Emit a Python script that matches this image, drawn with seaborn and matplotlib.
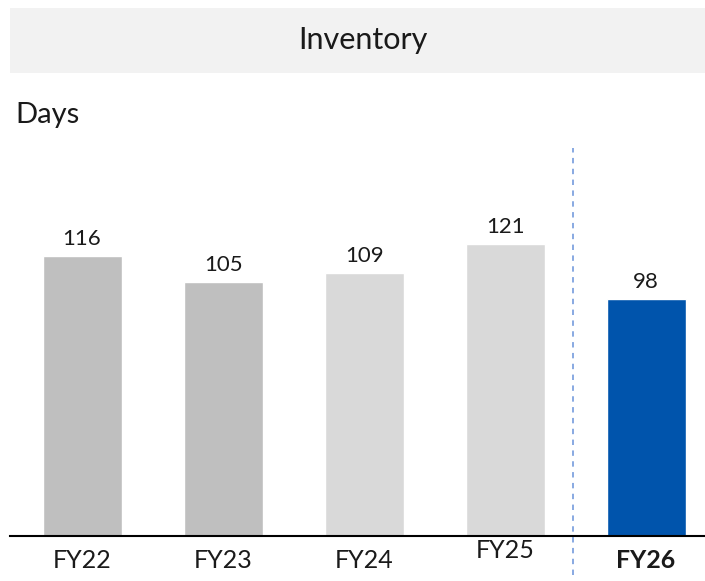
import matplotlib
matplotlib.use("Agg")
import matplotlib.pyplot as plt
import matplotlib.patches as mpatches
import matplotlib.transforms as mtransforms
import seaborn as sns
import pandas as pd

# data
years = ["FY22", "FY23", "FY24", "FY25", "FY26"]
days = [116, 105, 109, 121, 98]
bar_colors = ["#BFBFBF", "#BFBFBF", "#D9D9D9", "#D9D9D9", "#0054AC"]

sns.set_style("white")
plt.rcParams['font.family'] = ['Lato', 'DejaVu Sans']

df = pd.DataFrame({"year": years, "days": days})

fig = plt.figure(figsize=(7.05, 5.81), dpi=100)

# grey title band
fig.patches.append(mpatches.Rectangle((10 / 705, 1 - 73 / 581), 695 / 705, 65 / 581,
                                      transform=fig.transFigure, facecolor="#F2F2F2",
                                      edgecolor="none", zorder=0))
fig.text(363 / 705, 1 - 40 / 581, "Inventory", ha="center", va="center",
         fontsize=22, color="#1a1a1a")
fig.text(15 / 705, 1 - 115 / 581, "Days", ha="left", va="center",
         fontsize=21, color="#1a1a1a")

ax = fig.add_axes([10 / 705, 45 / 581, 695 / 705, 388 / 581])
sns.barplot(data=df, x="year", y="days", hue="year", palette=dict(zip(years, bar_colors)),
            width=0.56, legend=False, ax=ax, saturation=1)

ax.set_xlim(-0.511, 4.418)
ax.set_ylim(0, 160.7)

for i, v in enumerate(days):
    ax.text(i, v + 3, str(v), ha="center", va="bottom", fontsize=16, color="#1a1a1a")

# separator before the latest year
ax.axvline(3.48, ymin=-0.1, ymax=1.0, color="#7FA3DF", linestyle=(0, (3, 3)),
           linewidth=1.3, clip_on=False)

for s in ["top", "right", "left"]:
    ax.spines[s].set_visible(False)
ax.spines["bottom"].set_color("black")
ax.spines["bottom"].set_linewidth(1.5)

ax.set_yticks([])
ax.set_xlabel("")
ax.set_ylabel("")
ax.tick_params(axis="x", length=0, labelsize=18, pad=9, colors="#1a1a1a")
labels = ax.get_xticklabels()
labels[-1].set_fontweight("bold")
# FY25 label sits a little higher in the original
labels[3].set_transform(labels[3].get_transform() +
                        mtransforms.ScaledTranslation(0, 10 / 100, fig.dpi_scale_trans))
ax.patch.set_alpha(0)

fig.savefig("out.png", dpi=100)
